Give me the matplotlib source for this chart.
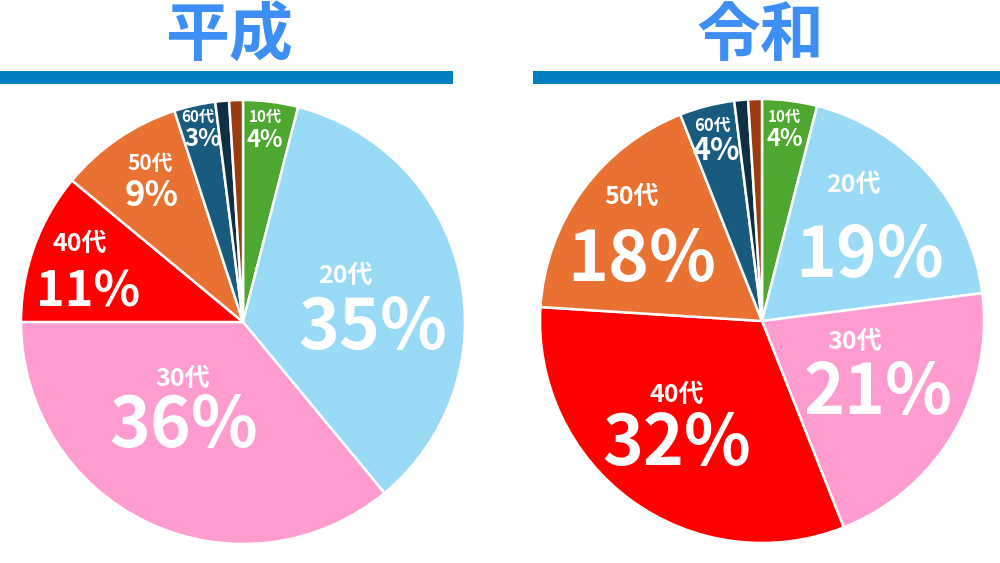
import matplotlib
matplotlib.use("Agg")
import matplotlib.pyplot as plt

plt.rcParams['font.family'] = ['Noto Sans CJK JP', 'DejaVu Sans']

ages = ['10代', '20代', '30代', '40代', '50代', '60代', '70代', '80代']
heisei = [4, 35, 36, 11, 9, 3, 1, 1]
reiwa = [4, 19, 21, 32, 18, 4, 1, 1]
titles = ['平成', '令和']
colors = ['#4ea72e', '#99dbf6', '#ff9ccf', '#ff0000', '#e97132',
          '#195b7e', '#0e2f44', '#9a3b10']

W, H = 1000, 563
fig = plt.figure(figsize=(10, 5.63), dpi=100)

# pie centres / radius in pixels
centres = [(243, 322), (762, 321)]
R = 222
M = 1.03

# label layout (pixel positions): age line, pct line, sizes
label_pos = [
    {0: ((265, 117), 11, (265, 140), 17),
     1: ((345, 276), 18, (373, 329), 50),
     2: ((183, 379), 18, (184, 427), 50),
     3: ((80, 244), 18, (88, 292), 35),
     4: ((150, 163), 15, (152, 196), 25),
     5: ((198, 117), 11, (203, 139), 17)},
    {0: ((784, 117), 11, (785, 139), 17),
     1: ((853, 185), 18, (870, 257), 50),
     2: ((855, 342), 18, (878, 394), 50),
     3: ((677, 395), 18, (677, 445), 50),
     4: ((632, 197), 18, (642, 261), 50),
     5: ((712, 126), 12, (716, 151), 22)},
]

for k, vals in enumerate([heisei, reiwa]):
    cx, cy = centres[k]
    ax = fig.add_axes([(cx - R * M) / W, (H - cy - R * M) / H,
                       2 * R * M / W, 2 * R * M / H])
    ax.pie(vals, colors=colors, startangle=90, counterclock=False,
           radius=1, wedgeprops=dict(edgecolor='white', linewidth=1.8))
    ax.set_xlim(-M, M)
    ax.set_ylim(-M, M)
    ax.set_aspect('equal')
    ax.axis('off')
    for i, (p1, s1, p2, s2) in label_pos[k].items():
        fig.text(p1[0] / W, 1 - p1[1] / H, ages[i], color='white',
                 fontsize=s1, fontweight='bold', ha='center', va='center')
        fig.text(p2[0] / W, 1 - p2[1] / H, f'{vals[i]}%', color='white',
                 fontsize=s2, fontweight='bold', ha='center', va='center')

# titles and underline bars
fig.text(229 / W, 1 - 36 / H, titles[0], color='#3d8ef5', fontsize=46,
         fontweight='bold', ha='center', va='center')
fig.text(760 / W, 1 - 36 / H, titles[1], color='#3d8ef5', fontsize=46,
         fontweight='bold', ha='center', va='center')
bar_ax = fig.add_axes([0, 0, 1, 1])
bar_ax.set_xlim(0, W)
bar_ax.set_ylim(H, 0)
bar_ax.axis('off')
bar_ax.fill_between([0, 453], 71, 84, color='#0080c0', lw=0)
bar_ax.fill_between([533, 1000], 71, 84, color='#0080c0', lw=0)

fig.savefig('out.png', dpi=100, facecolor='white')
